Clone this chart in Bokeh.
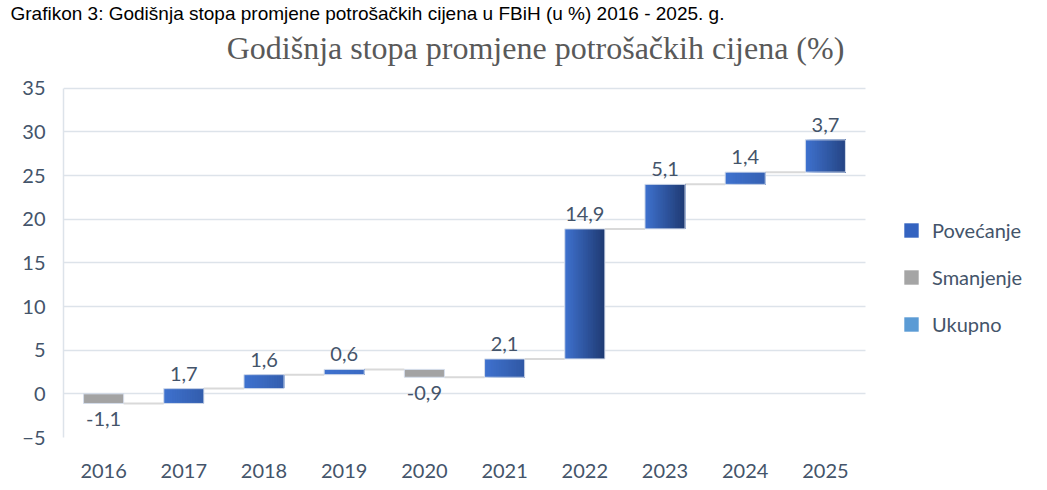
import numpy as np
from bokeh.plotting import figure
from bokeh.models import Range1d, FixedTicker, Legend, LegendItem, Title, Label
from bokeh.core.properties import value
from bokeh.embed import file_html
from bokeh.resources import INLINE

# ---------------- data ----------------
years = ["2016", "2017", "2018", "2019", "2020", "2021", "2022", "2023", "2024", "2025"]
changes = [-1.1, 1.7, 1.6, 0.6, -0.9, 2.1, 14.9, 5.1, 1.4, 3.7]
y_ticks = [-5, 0, 5, 10, 15, 20, 25, 30, 35]
legend_labels = ["Povećanje", "Smanjenje", "Ukupno"]
title_text = "Godišnja stopa promjene potrošačkih cijena (%)"
caption_text = "Grafikon 3: Godišnja stopa promjene potrošačkih cijena u FBiH (u %) 2016 - 2025. g."

# ---------------- layout ----------------
W, H = 1040, 486
FL = 63            # frame left (px)
FT = 22            # frame top (px), caption panel above it
FB = 437           # pixel row of the -5 line
PX_UNIT_X = 80.2   # px per category
PX_UNIT_Y = 8.75   # px per y unit
Y0, Y1 = -5, 35
X0, X1 = -0.5, len(years) - 0.5
XR1 = X0 + (W - FL) / PX_UNIT_X
YR1 = Y1 + (87 - FT) / PX_UNIT_Y
TEXT = "#44546A"
FONT = "Lato"
GRID = "#DDE3EA"
BAR_W = 0.5


def dx(px):
    return X0 + (px - FL) / PX_UNIT_X


def dy(py):
    return Y1 - (py - 87) / PX_UNIT_Y


chg = np.array(changes)
end = np.cumsum(chg)
start = end - chg
xs = np.arange(len(years))
top = np.maximum(start, end)
bottom = np.minimum(start, end)

p = figure(width=W, height=H, output_backend="svg", toolbar_location=None,
           title=None,
           x_range=Range1d(X0, XR1), y_range=Range1d(Y0, YR1),
           min_border_left=FL, min_border_right=0,
           min_border_top=FT, min_border_bottom=H - FB)
p.outline_line_color = None
p.background_fill_color = "white"
p.border_fill_color = "white"

# caption above the chart
p.add_layout(Title(text=caption_text, align="left", offset=-53, standoff=0,
                   text_font="Liberation Sans", text_font_size="19px",
                   text_font_style="normal", text_color="#000000"), "above")

# axes
p.xaxis.ticker = FixedTicker(ticks=list(xs))
p.xaxis.major_label_overrides = {int(i): y for i, y in zip(xs, years)}
p.yaxis.ticker = FixedTicker(ticks=y_ticks)
p.xaxis.bounds = (X0, X1)
p.yaxis.bounds = (Y0, Y1)
for ax in (p.xaxis[0], p.yaxis[0]):
    ax.major_tick_line_color = None
    ax.minor_tick_line_color = None
    ax.major_label_text_font = FONT
    ax.major_label_text_font_size = "20px"
    ax.major_label_text_color = TEXT
p.xaxis.axis_line_color = None
p.yaxis.axis_line_color = GRID
p.yaxis.axis_line_width = 1.5
p.yaxis.major_label_standoff = 12
p.xaxis.major_label_standoff = 20
p.xgrid.grid_line_color = None
p.ygrid.grid_line_color = GRID
p.ygrid.grid_line_width = 1.5
p.ygrid.cross_bounds = (X0, X1)

# connectors
p.segment(x0=xs[:-1] + BAR_W / 2, y0=end[:-1], x1=xs[1:] - BAR_W / 2, y1=end[:-1],
          line_color="#D9D9D9", line_width=2)

# increase bars with horizontal gradient (stacked quads, light -> dark)
light = np.array([0x3F, 0x72, 0xCF])
dark = np.array([0x1F, 0x3A, 0x72])
N = 24
px_bar_w = BAR_W * PX_UNIT_X
ql, qr, qb, qt, qc = [], [], [], [], []
for i in xs:
    if chg[i] <= 0:
        continue
    s = min(1.0, chg[i] * PX_UNIT_Y / px_bar_w)
    for k in range(N):
        t = (k + 0.5) / N * s
        c = light + (dark - light) * t
        ql.append(i - BAR_W / 2 + k * BAR_W / N)
        qr.append(i + BAR_W / 2)
        qb.append(bottom[i])
        qt.append(top[i])
        qc.append("#%02x%02x%02x" % tuple(int(round(v)) for v in c))
p.quad(left=ql, right=qr, bottom=qb, top=qt, fill_color=qc, line_color=None)

neg = chg < 0
pos = chg > 0
p.vbar(x=xs[neg], bottom=bottom[neg], top=top[neg], width=BAR_W,
       fill_color="#A3A3A3", line_color=None)
# thin light outline
p.vbar(x=xs, bottom=bottom, top=top, width=BAR_W, fill_color=None,
       line_color="#D5DDEB", line_width=1)

# data labels
fmt = [("%.1f" % v).replace(".", ",") for v in changes]
p.text(x=xs[pos], y=top[pos], text=[f for f, q in zip(fmt, pos) if q],
       text_align="center", text_baseline="alphabetic", y_offset=-15,
       text_font=value(FONT), text_font_size="20px", text_color=TEXT)
p.text(x=xs[neg], y=bottom[neg], text=[f for f, q in zip(fmt, neg) if q],
       text_align="center", text_baseline="alphabetic", y_offset=16,
       text_font=value(FONT), text_font_size="20px", text_color=TEXT)

# chart title
p.add_layout(Label(x=dx(535), y=dy(47), text=title_text, text_align="center",
                   text_baseline="alphabetic", text_font="Liberation Serif",
                   text_font_size="32px", text_color="#595959"))

# legend (dummy renderers, one empty row each)
nan = [float("nan")]
r_up = p.vbar(x=nan, top=nan, width=0.5, fill_color="#3463C0", line_color=None)
r_dn = p.vbar(x=nan, top=nan, width=0.5, fill_color="#A5A5A5", line_color=None)
r_tot = p.vbar(x=nan, top=nan, width=0.5, fill_color="#5B9BD5", line_color=None)
legend = Legend(items=[LegendItem(label=legend_labels[0], renderers=[r_up]),
                       LegendItem(label=legend_labels[1], renderers=[r_dn]),
                       LegendItem(label=legend_labels[2], renderers=[r_tot])],
                location=(902 - FL, FB - 336), orientation="vertical",
                glyph_width=18, glyph_height=18, label_standoff=12,
                spacing=23, padding=0, margin=0,
                border_line_color=None, background_fill_alpha=0,
                label_text_font=FONT, label_text_font_size="20px",
                label_text_color=TEXT)
p.add_layout(legend)

open("out.html", "w").write(file_html(p, INLINE))
